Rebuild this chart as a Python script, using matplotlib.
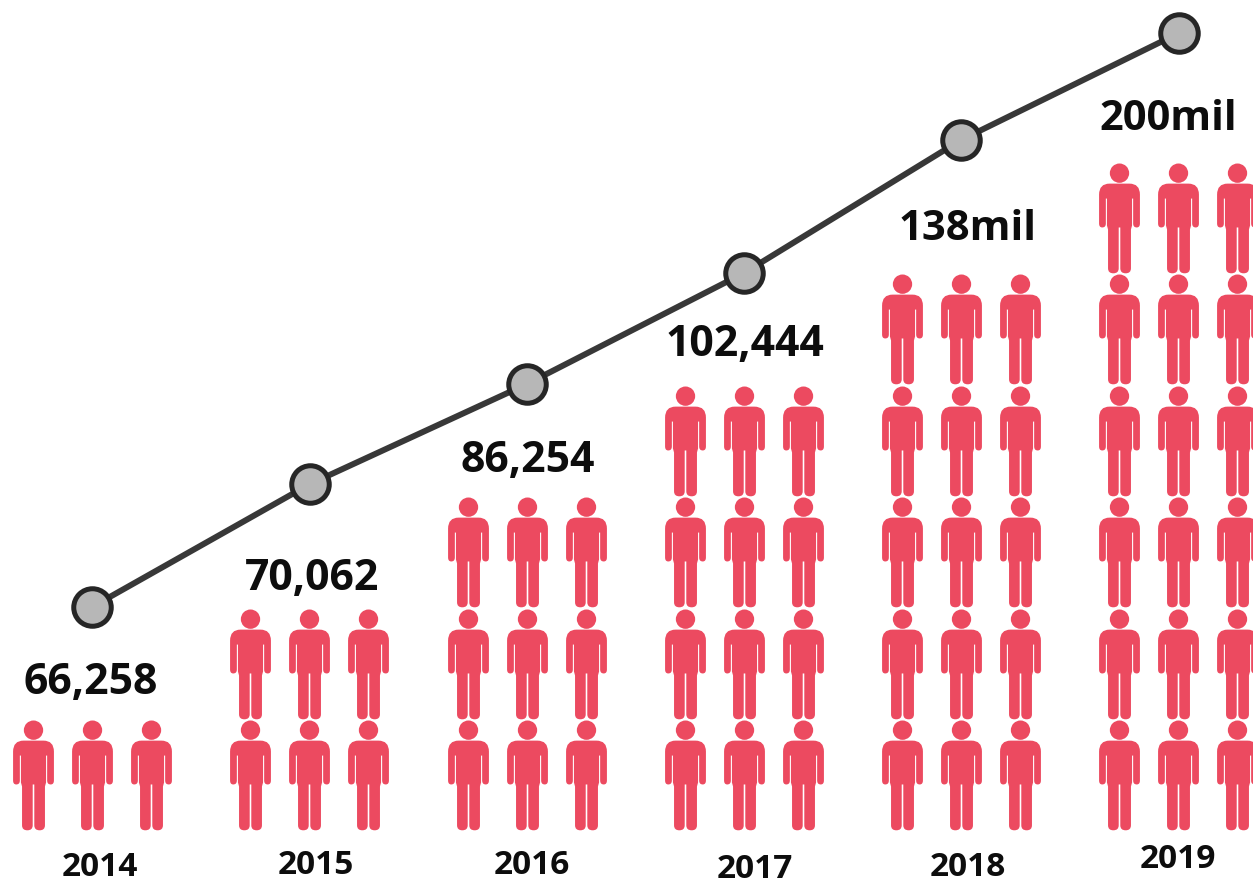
from matplotlib import use
use('Agg')
from matplotlib import pyplot as plt
from matplotlib.path import Path
import numpy as np

years      = ['2014', '2015', '2016', '2017', '2018', '2019']
labels     = ['66,258', '70,062', '86,254', '102,444', '138mil', '200mil']
num_rows   = [1, 2, 3, 4, 5, 6]

# the chart has no axis, so everything is read off in image pixels
line_x     = [92, 310, 527, 744, 961, 1179]
line_y     = [607, 484, 384, 273, 140, 33]
people_x   = [92, 309, 526.5, 744, 961, 1178]
label_x    = [91, 312, 528, 745, 968, 1168]
label_y    = [683, 579, 461, 345, 229, 119]
year_x     = [100, 316, 532, 755, 968, 1178]
year_y     = [868, 866, 865, 869, 868, 860]

people_per_row = 3
col_step   = 59
row_step   = 111.4
base_y     = 775

red   = '#EC4A60'
black = '#0d0d0d'


def person_marker():
    # right half of the body outline, x from the middle, y down from top of head
    half = [(Path.MOVETO, 0, 20), (Path.LINETO, 10, 20),
            (Path.CURVE3, 20.5, 20), (Path.CURVE3, 20.5, 31),
            (Path.LINETO, 20.5, 60),
            (Path.CURVE3, 20.5, 64), (Path.CURVE3, 17.3, 64),
            (Path.CURVE3, 13.7, 64), (Path.CURVE3, 13.7, 60),
            (Path.LINETO, 13.7, 35), (Path.LINETO, 12.6, 35),
            (Path.LINETO, 12.6, 62), (Path.LINETO, 11.5, 66),
            (Path.LINETO, 11.5, 105),
            (Path.CURVE3, 11.5, 110), (Path.CURVE3, 6.2, 110),
            (Path.CURVE3, 0.8, 110), (Path.CURVE3, 0.8, 105),
            (Path.LINETO, 0.8, 64), (Path.LINETO, 0, 64)]
    codes = [c for c, x, y in half]
    right = [(x, y) for c, x, y in half]
    # walk back down the left side, a code belongs to the end of its segment
    left  = [(-x, y) for x, y in right[-2::-1]]
    verts = np.array(right + left, dtype=float)
    body  = Path(np.column_stack([verts[:, 0], 55 - verts[:, 1]]), codes + codes[:0:-1])
    head  = Path.circle((0, 55 - 9.5), 9.7)
    return Path.make_compound_path(body, head)


person = person_marker()

fig = plt.figure(figsize=(12.53, 8.83), dpi=100)
ax = fig.add_axes([0, 0, 1, 1])
ax.set_xlim(0, 1253)
ax.set_ylim(883, 0)
ax.axis('off')

for iYear in range(len(years)):
    for iRow in range(num_rows[iYear]):
        for iCol in range(people_per_row):
            ax.plot(people_x[iYear] + (iCol - 1) * col_step, base_y - iRow * row_step,
                    marker=person, markersize=79.2, color=red, mew=0, ls='none')

ax.plot(line_x, line_y, color='#383838', lw=4.3, marker='o', ms=27,
        mfc='#b7b7b7', mec='#262626', mew=3.6, zorder=5)

for iYear in range(len(years)):
    label_size = 30 if labels[iYear].endswith('mil') else 30.8
    ax.text(label_x[iYear], label_y[iYear], labels[iYear], family='Open Sans', weight='bold',
            fontsize=label_size, color=black, ha='center', va='center')
    ax.text(year_x[iYear], year_y[iYear], years[iYear], family='Open Sans', weight='bold',
            fontsize=24, color=black, ha='center', va='center')

plt.savefig('out.png', dpi=100)
